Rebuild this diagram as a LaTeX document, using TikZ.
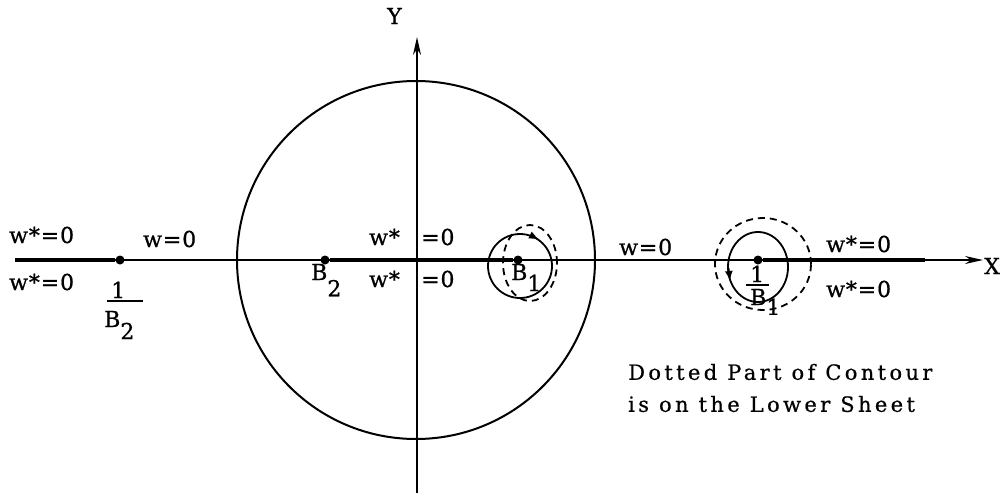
\documentclass[tikz,border=0pt]{standalone}
\usepackage{fontspec}
\newfontfamily\labelfont[LetterSpace=4,FakeBold=0.8]{DejaVu Serif}
\newfontfamily\notefont[LetterSpace=16,FakeBold=0.6]{DejaVu Serif}
\usetikzlibrary{arrows.meta}
\tikzset{
  axis/.style={line width=2pt},
  cut/.style={line width=4.5pt},
  loop/.style={line width=1.8pt},
  lowloop/.style={line width=1.8pt, dash pattern=on 7pt off 5pt},
  lbl/.style={font=\labelfont\fontsize{22}{22}\selectfont, inner sep=0pt, anchor=base west},
  branch/.style={circle, fill, inner sep=0pt, minimum size=9pt},
}
\newcommand{\lowsub}[2][0.55em]{\raisebox{-#1}{#2}}
\begin{document}
\begin{tikzpicture}[x=1pt,y=-1pt]
\useasboundingbox (0,0) rectangle (1005,501);
% axes
\coordinate (xl) at (15,260);
\coordinate (xr) at (983,260);
\coordinate (yb) at (417,493);
\coordinate (yt) at (417,37);
\draw[axis,-{Stealth[length=18pt,width=8pt]}] (xl) -- (xr);
\draw[axis,-{Stealth[length=18pt,width=8pt]}] (yb) -- (yt);
\node[lbl] (xlab) at (984,274) {X};
\node[lbl] (ylab) at (387,24) {Y};
% unit circle
\draw[axis] (416,260) circle[radius=179pt];
% branch points
\node[branch] (b2inv) at (120,260) {};
\node[branch] (b2) at (325,260) {};
\node[branch] (b1) at (518,260) {};
\node[branch] (b1inv) at (758,260) {};
% cuts
\draw[cut] (xl) -- (b2inv);
\draw[cut] (b2) -- (b1);
\draw[cut] (b1inv) -- (925,260);
% contour round B1
\draw[loop] (520,266) circle[radius=32pt];
\draw[lowloop] (530,263) ellipse[x radius=27pt, y radius=38pt];
\draw[loop,-{Latex[length=10pt,width=8pt]}] (531,235.5) -- (539,239.5);
% contour round 1/B1
\draw[loop] (758,267) ellipse[x radius=30pt, y radius=35pt];
\draw[lowloop] (763,264) ellipse[x radius=48pt, y radius=46pt];
\draw[loop,-{Latex[length=10pt,width=8pt]}] (728.5,268) -- (730,281);
% labels
\node[lbl] (wsul) at (9,243) {w*=0};
\node[lbl] (wsll) at (9,290) {w*=0};
\node[lbl] (wl) at (143,247) {w=0};
\node[lbl] (b2num) at (111,298) {1};
\node[lbl] (b2den) at (104,327) {B\lowsub{2}};
\draw[line width=1.5pt] (107,301) -- (143,301);
\node[lbl] (b2lab) at (311,280) {B\lowsub[0.74em]{2}};
\node[lbl] (wsuc) at (369,245) {w*};
\node[lbl] (equc) at (421,245) {=0};
\node[lbl] (wslc) at (369,287) {w*};
\node[lbl] (eqlc) at (421,287) {=0};
\node[lbl] (b1lab) at (511,280) {B\lowsub[0.5em]{1}};
\node[lbl] (wr) at (619,255) {w=0};
\node[lbl] (wsur) at (826,252) {w*=0};
\node[lbl] (wslr) at (826,297) {w*=0};
\node[lbl] (b1num) at (750,282) {1};
\node[lbl] (b1den) at (750,305) {B\lowsub[0.45em]{1}};
\draw[line width=1.5pt] (746,285) -- (769,285);
% note
\node[font=\notefont\fontsize{21}{32}\selectfont, align=left, anchor=west, inner sep=0pt] (note) at (628,388)
  {Dotted Part of Contour\\is on the Lower Sheet};
\end{tikzpicture}
\end{document}
